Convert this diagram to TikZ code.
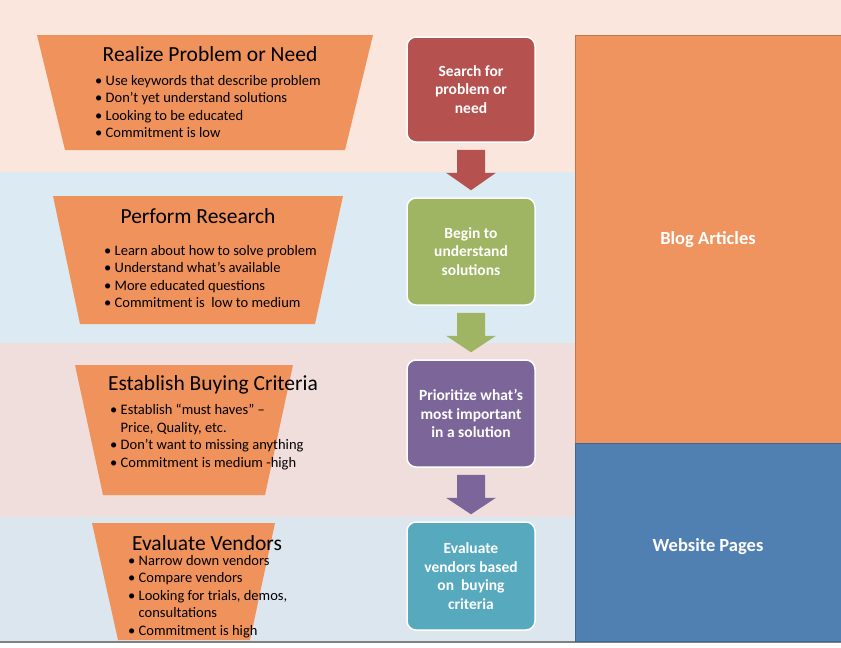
\documentclass[tikz,border=0pt]{standalone}
\usepackage{fontspec}
\setmainfont{Carlito}
\definecolor{bandA}{HTML}{FAE6DC}
\definecolor{bandB}{HTML}{DCEBF3}
\definecolor{bandC}{HTML}{F0DEDC}
\definecolor{bandD}{HTML}{DCE6EF}
\definecolor{trap}{HTML}{F0925C}
\definecolor{cRed}{HTML}{B5524F}
\definecolor{cGreen}{HTML}{9FB564}
\definecolor{cPurple}{HTML}{7C6599}
\definecolor{cTeal}{HTML}{57A9BE}
\definecolor{cOrange}{HTML}{F0945F}
\definecolor{cBlue}{HTML}{4F80B1}
\begin{document}
\begin{tikzpicture}[x=1pt,y=-1pt,
  title/.style={font=\fontsize{21.5}{24}\selectfont, text=black},
  bul/.style={anchor=north west, align=left, inner sep=0pt, font=\fontsize{14.5}{17.5}\selectfont},
  box/.style={rounded corners=9pt, draw=white, line width=1.5pt, minimum width=128pt, align=center, text=white, font=\bfseries\fontsize{15.5}{18.5}\selectfont},
  panel/.style={draw=#1!80!black, fill=#1, line width=0.8pt}]
\useasboundingbox (0,0) rectangle (841,648);
\fill[white] (0,0) rectangle (841,648);
\fill[bandA] (0,0) rectangle (841,172);
\fill[bandB] (0,172) rectangle (575,343);
\fill[bandC] (0,343) rectangle (575,517);
\fill[bandD] (0,517) rectangle (575,641);
\draw[gray, line width=1.5pt] (0,642) -- (841,642);
% right panels
\draw[panel=cOrange] (575,35) rectangle (841,443);
\draw[panel=cBlue] (575,443) rectangle (841,641);
\node[text=white, font=\bfseries\fontsize{18.5}{22}\selectfont] (blog) at (708,240) {Blog Articles};
\node[text=white, font=\bfseries\fontsize{18.5}{22}\selectfont] (web) at (708,547) {Website Pages};
% trapezoids
\fill[trap] (37,35) -- (373,35) -- (345,150) -- (65,150) -- cycle;
\fill[trap] (53,196) -- (343,196) -- (315,324) -- (80,324) -- cycle;
\fill[trap] (75,365) -- (293,365) -- (265,495) -- (103,495) -- cycle;
\fill[trap] (92,523) -- (275,523) -- (250,640) -- (118,640) -- cycle;
\node[title] (t1) at (210,54) {Realize Problem or Need};
\node[bul] (b1) at (95,75) {• Use keywords that describe problem\\• Don’t yet understand solutions\\• Looking to be educated\\• Commitment is low};
\node[title] (t2) at (198,216) {Perform Research};
\node[bul] (b2) at (104,245) {• Learn about how to solve problem\\• Understand what’s available\\• More educated questions\\• Commitment is \ low to medium};
\node[title] (t3) at (213,385) {Establish Buying Criteria};
\node[bul] (b3) at (110,404) {• Establish “must haves” –\\\phantom{• }Price, Quality, etc.\\• Don’t want to missing anything\\• Commitment is medium -high};
\node[title] (t4) at (207,543) {Evaluate Vendors};
\node[bul] (b4) at (128,555) {• Narrow down vendors\\• Compare vendors\\• Looking for trials, demos,\\\phantom{• }consultations\\• Commitment is high};
% boxes
\node[box, fill=cRed, minimum height=105pt] (s1) at (471,89.5) {Search for\\problem or\\need};
\node[box, fill=cGreen, minimum height=107pt] (s2) at (471,251.5) {Begin to\\understand\\solutions};
\node[box, fill=cPurple, minimum height=107pt] (s3) at (471,413.5) {Prioritize what’s\\most important\\in a solution};
\node[box, fill=cTeal, minimum height=108pt] (s4) at (471,576) {Evaluate\\vendors based\\on \ buying\\criteria};
% block arrows
\foreach \a/\b/\c in {s1/s2/cRed, s2/s3/cGreen, s3/s4/cPurple}{
  \fill[\c] ([xshift=-14pt,yshift=-7pt]\a.south) -- ([xshift=14pt,yshift=-7pt]\a.south)
    -- ([xshift=14pt,yshift=-30pt]\a.south) -- ([xshift=25pt,yshift=-30pt]\a.south)
    -- ([yshift=7pt]\b.north) -- ([xshift=-25pt,yshift=-30pt]\a.south)
    -- ([xshift=-14pt,yshift=-30pt]\a.south) -- cycle;
}
\end{tikzpicture}
\end{document}
